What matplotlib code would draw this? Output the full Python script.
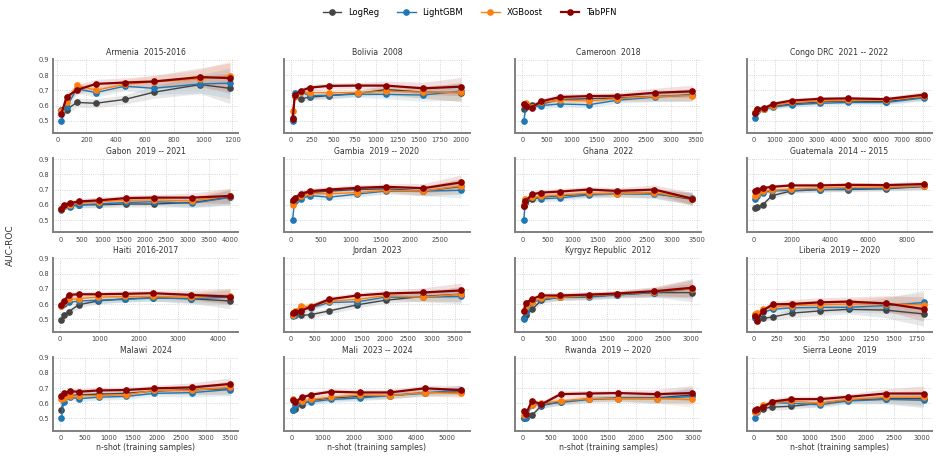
import numpy as np
import matplotlib.pyplot as plt
from matplotlib.ticker import MaxNLocator

titles = ['Armenia  2015-2016', 'Bolivia  2008', 'Cameroon  2018', 'Congo DRC  2021 -- 2022',
          'Gabon  2019 -- 2021', 'Gambia  2019 -- 2020', 'Ghana  2022', 'Guatemala  2014 -- 2015',
          'Haiti  2016-2017', 'Jordan  2023', 'Kyrgyz Republic  2012', 'Liberia  2019 -- 2020',
          'Malawi  2024', 'Mali  2023 -- 2024', 'Rwanda  2019 -- 2020', 'Sierra Leone  2019']

# n-shot values per panel
shots = [
    [28, 64, 133, 264, 463, 660, 980, 1183],
    [20, 47, 114, 224, 448, 786, 1120, 1556, 2000],
    [30, 75, 190, 375, 765, 1340, 1915, 2675, 3430],
    [48, 127, 475, 903, 1790, 3136, 4467, 6257, 8030],
    [24, 94, 220, 447, 902, 1553, 2212, 3114, 4000],
    [28, 61, 168, 319, 643, 1113, 1588, 2220, 2852],
    [20, 53, 187, 373, 753, 1320, 1887, 2640, 3400],
    [87, 210, 489, 978, 1974, 3459, 4926, 6900, 8873],
    [42, 100, 233, 475, 958, 1650, 2350, 3308, 4300],
    [36, 85, 213, 420, 818, 1416, 2020, 2824, 3628],
    [18, 65, 166, 333, 671, 1176, 1681, 2352, 3030],
    [14, 36, 96, 204, 407, 711, 1018, 1418, 1821],
    [21, 69, 192, 391, 789, 1359, 1935, 2725, 3500],
    [33, 100, 322, 633, 1267, 2211, 3156, 4280, 5450],
    [24, 59, 166, 333, 671, 1176, 1681, 2352, 2980],
    [30, 59, 172, 339, 677, 1182, 1687, 2358, 3030],
]

logreg = [
    [0.570, 0.573, 0.620, 0.615, 0.640, 0.687, 0.738, 0.713],
    [0.515, 0.660, 0.644, 0.655, 0.665, 0.680, 0.705, 0.688, 0.685],
    [0.575, 0.590, 0.605, 0.610, 0.640, 0.645, 0.650, 0.660, 0.670],
    [0.550, 0.570, 0.580, 0.595, 0.610, 0.625, 0.630, 0.625, 0.655],
    [0.575, 0.595, 0.595, 0.600, 0.600, 0.605, 0.605, 0.615, 0.650],
    [0.620, 0.630, 0.660, 0.680, 0.690, 0.700, 0.705, 0.690, 0.720],
    [0.590, 0.610, 0.635, 0.650, 0.660, 0.670, 0.675, 0.675, 0.635],
    [0.580, 0.585, 0.600, 0.660, 0.690, 0.700, 0.700, 0.705, 0.720],
    [0.495, 0.525, 0.550, 0.595, 0.620, 0.635, 0.640, 0.635, 0.620],
    [0.525, 0.530, 0.525, 0.530, 0.555, 0.595, 0.625, 0.650, 0.665],
    [0.510, 0.530, 0.565, 0.625, 0.645, 0.650, 0.660, 0.675, 0.675],
    [0.525, 0.500, 0.505, 0.515, 0.540, 0.555, 0.565, 0.560, 0.535],
    [0.555, 0.640, 0.650, 0.655, 0.660, 0.665, 0.680, 0.690, 0.695],
    [0.555, 0.560, 0.590, 0.620, 0.635, 0.645, 0.650, 0.670, 0.675],
    [0.505, 0.510, 0.520, 0.585, 0.610, 0.630, 0.635, 0.635, 0.655],
    [0.545, 0.555, 0.565, 0.575, 0.580, 0.600, 0.620, 0.630, 0.630],
]

lightgbm = [
    [0.500, 0.590, 0.710, 0.685, 0.727, 0.713, 0.742, 0.747],
    [0.500, 0.685, 0.690, 0.665, 0.667, 0.675, 0.673, 0.669, 0.695],
    [0.500, 0.595, 0.590, 0.600, 0.610, 0.605, 0.635, 0.655, 0.670],
    [0.516, 0.565, 0.575, 0.590, 0.605, 0.615, 0.620, 0.620, 0.650],
    [0.565, 0.590, 0.585, 0.600, 0.605, 0.615, 0.620, 0.610, 0.648],
    [0.500, 0.625, 0.640, 0.660, 0.650, 0.670, 0.690, 0.690, 0.695],
    [0.500, 0.630, 0.650, 0.640, 0.645, 0.665, 0.670, 0.670, 0.645],
    [0.640, 0.660, 0.680, 0.690, 0.695, 0.700, 0.705, 0.710, 0.720],
    [0.585, 0.600, 0.610, 0.620, 0.625, 0.630, 0.640, 0.635, 0.645],
    [0.520, 0.530, 0.560, 0.575, 0.610, 0.615, 0.645, 0.645, 0.650],
    [0.500, 0.550, 0.610, 0.630, 0.645, 0.645, 0.660, 0.675, 0.700],
    [0.510, 0.520, 0.545, 0.565, 0.575, 0.578, 0.578, 0.590, 0.610],
    [0.500, 0.610, 0.640, 0.630, 0.640, 0.645, 0.665, 0.670, 0.690],
    [0.555, 0.590, 0.605, 0.610, 0.625, 0.635, 0.650, 0.665, 0.690],
    [0.500, 0.505, 0.590, 0.590, 0.605, 0.625, 0.630, 0.630, 0.645],
    [0.500, 0.545, 0.575, 0.605, 0.600, 0.590, 0.615, 0.625, 0.620],
]

xgboost = [
    [0.562, 0.620, 0.733, 0.700, 0.740, 0.755, 0.775, 0.795],
    [0.562, 0.665, 0.690, 0.685, 0.685, 0.685, 0.693, 0.688, 0.687],
    [0.610, 0.615, 0.590, 0.620, 0.635, 0.630, 0.645, 0.660, 0.665],
    [0.560, 0.570, 0.580, 0.600, 0.620, 0.630, 0.635, 0.635, 0.660],
    [0.570, 0.595, 0.600, 0.615, 0.620, 0.630, 0.632, 0.625, 0.660],
    [0.600, 0.635, 0.655, 0.675, 0.672, 0.680, 0.695, 0.690, 0.725],
    [0.605, 0.640, 0.650, 0.655, 0.665, 0.675, 0.670, 0.680, 0.640],
    [0.655, 0.670, 0.690, 0.695, 0.705, 0.710, 0.715, 0.715, 0.725],
    [0.590, 0.610, 0.630, 0.635, 0.645, 0.650, 0.650, 0.645, 0.655],
    [0.530, 0.555, 0.585, 0.585, 0.620, 0.630, 0.655, 0.645, 0.665],
    [0.555, 0.590, 0.615, 0.640, 0.645, 0.655, 0.665, 0.680, 0.700],
    [0.535, 0.540, 0.565, 0.580, 0.590, 0.595, 0.600, 0.600, 0.595],
    [0.625, 0.635, 0.645, 0.650, 0.650, 0.655, 0.685, 0.685, 0.705],
    [0.625, 0.610, 0.615, 0.625, 0.640, 0.655, 0.650, 0.670, 0.665],
    [0.520, 0.530, 0.590, 0.600, 0.615, 0.630, 0.630, 0.630, 0.625],
    [0.545, 0.550, 0.590, 0.605, 0.615, 0.600, 0.625, 0.640, 0.640],
]

tabpfn = [
    [0.547, 0.656, 0.702, 0.742, 0.751, 0.758, 0.787, 0.780],
    [0.511, 0.669, 0.696, 0.718, 0.729, 0.731, 0.731, 0.713, 0.724],
    [0.611, 0.600, 0.587, 0.627, 0.656, 0.662, 0.664, 0.684, 0.693],
    [0.553, 0.578, 0.582, 0.611, 0.633, 0.644, 0.647, 0.642, 0.671],
    [0.573, 0.600, 0.611, 0.622, 0.629, 0.644, 0.647, 0.647, 0.658],
    [0.631, 0.644, 0.673, 0.689, 0.700, 0.711, 0.718, 0.709, 0.747],
    [0.593, 0.622, 0.669, 0.680, 0.687, 0.700, 0.691, 0.700, 0.640],
    [0.691, 0.700, 0.709, 0.718, 0.727, 0.727, 0.731, 0.729, 0.736],
    [0.591, 0.620, 0.660, 0.664, 0.664, 0.667, 0.671, 0.660, 0.649],
    [0.538, 0.545, 0.556, 0.582, 0.631, 0.656, 0.669, 0.676, 0.689],
    [0.553, 0.609, 0.633, 0.656, 0.656, 0.662, 0.669, 0.684, 0.707],
    [0.520, 0.491, 0.556, 0.598, 0.600, 0.611, 0.616, 0.604, 0.567],
    [0.649, 0.667, 0.678, 0.676, 0.684, 0.687, 0.698, 0.704, 0.727],
    [0.620, 0.605, 0.638, 0.656, 0.676, 0.671, 0.671, 0.698, 0.687],
    [0.551, 0.527, 0.616, 0.593, 0.660, 0.664, 0.667, 0.660, 0.667],
    [0.553, 0.560, 0.576, 0.611, 0.627, 0.627, 0.642, 0.664, 0.664],
]

# half-width of the shaded bands, per panel and shot
spread = [
    [0.03, 0.03, 0.03, 0.03, 0.03, 0.04, 0.06, 0.10],
    [0.02, 0.02, 0.02, 0.02, 0.02, 0.02, 0.03, 0.04, 0.06],
    [0.02, 0.02, 0.02, 0.02, 0.02, 0.02, 0.02, 0.03, 0.04],
    [0.02, 0.015, 0.015, 0.015, 0.015, 0.015, 0.015, 0.015, 0.02],
    [0.02, 0.02, 0.02, 0.02, 0.02, 0.02, 0.02, 0.03, 0.05],
    [0.02, 0.02, 0.02, 0.02, 0.02, 0.02, 0.02, 0.03, 0.05],
    [0.02, 0.02, 0.02, 0.02, 0.02, 0.02, 0.02, 0.03, 0.04],
    [0.02, 0.015, 0.015, 0.015, 0.015, 0.015, 0.015, 0.015, 0.02],
    [0.02, 0.02, 0.02, 0.02, 0.02, 0.02, 0.02, 0.03, 0.05],
    [0.02, 0.02, 0.02, 0.02, 0.02, 0.02, 0.02, 0.03, 0.05],
    [0.02, 0.02, 0.02, 0.02, 0.02, 0.02, 0.02, 0.03, 0.06],
    [0.02, 0.02, 0.02, 0.02, 0.03, 0.03, 0.03, 0.05, 0.08],
    [0.02, 0.02, 0.02, 0.02, 0.02, 0.02, 0.02, 0.03, 0.04],
    [0.02, 0.02, 0.02, 0.02, 0.02, 0.02, 0.02, 0.02, 0.03],
    [0.02, 0.02, 0.02, 0.02, 0.02, 0.02, 0.02, 0.03, 0.05],
    [0.02, 0.02, 0.02, 0.02, 0.02, 0.02, 0.02, 0.03, 0.05],
]

models = ['LogReg', 'LightGBM', 'XGBoost', 'TabPFN']
colors = ['#444444', '#1f77b4', '#ff7f0e', '#8b0000']
series = [logreg, lightgbm, xgboost, tabpfn]

fig, axes = plt.subplots(4, 4, figsize=(9.39, 4.58), dpi=100, sharey=True)
fig.subplots_adjust(left=0.0564, right=0.9925, top=0.871, bottom=0.059,
                    wspace=0.247, hspace=0.338)

for i, ax in enumerate(axes.flat):
    x = np.array(shots[i])
    sp = np.array(spread[i])
    for m, name in enumerate(models):
        y = np.array(series[m][i])
        lw = 1.6 if name == 'TabPFN' else 1.0
        ax.fill_between(x, y - sp, y + sp, color=colors[m], alpha=0.12, lw=0)
        ax.plot(x, y, '-o', color=colors[m], lw=lw, ms=3.8, label=name, zorder=3 + m)
    ax.set_title(titles[i], fontsize=5.6, color='#333333', pad=3)
    ax.set_ylim(0.418, 0.905)
    ax.set_yticks([0.5, 0.6, 0.7, 0.8, 0.9])
    ax.xaxis.set_major_locator(MaxNLocator(nbins=9, steps=[1, 2, 2.5, 5, 10]))
    ax.grid(True, ls=':', lw=0.6, color='#c8c8c8')
    ax.tick_params(labelsize=4.8, length=0, pad=3, colors='#444444')
    for s in ['top', 'right']:
        ax.spines[s].set_visible(False)
    for s in ['left', 'bottom']:
        ax.spines[s].set_color('#808080')
        ax.spines[s].set_linewidth(1.4)
    if i >= 12:
        ax.set_xlabel('n-shot (training samples)', fontsize=5.6, color='#333333', labelpad=1)

fig.text(0.011, 0.465, 'AUC-ROC', rotation=90, va='center', ha='center', fontsize=6.5, color='#333333')

handles, labels = axes[0, 0].get_legend_handles_labels()
fig.legend(handles, labels, loc='upper center', ncol=4, frameon=False, fontsize=6,
           bbox_to_anchor=(0.5, 1.0), handlelength=2.2, columnspacing=2.2, markerscale=1.0)

fig.savefig('out.png', dpi=100)
